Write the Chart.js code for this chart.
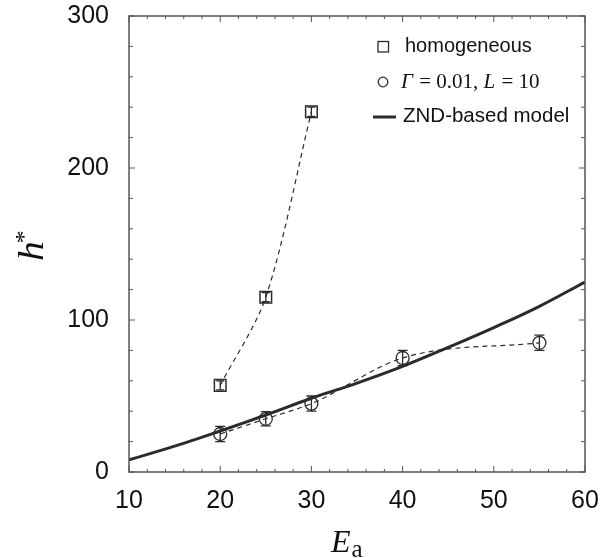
<!DOCTYPE html>
<html>
<head>
<meta charset="utf-8">
<script src="https://cdn.jsdelivr.net/npm/chart.js@4/dist/chart.umd.min.js"></script>
<style>
html,body{margin:0;padding:0;background:#fff;}
#wrap{width:611px;height:558px;position:relative;}
</style>
</head>
<body>
<div id="wrap"><canvas id="c" width="611" height="558"></canvas></div>
<script>
// ---- data ----
const homoEa = [20, 25, 30];
const homoH = [57, 115, 237];
const homoErr = [3, 3, 3];

const gammaEa = [20, 25, 30, 40, 55];
const gammaH = [25, 35, 45, 75, 85];
const gammaErr = [5, 4.7, 5, 5, 5];

const zndEa = [10, 15, 20, 25, 30, 35, 40, 45, 50, 55, 60];
const zndH = [8, 17, 27, 37.5, 48.5, 58.5, 69.5, 82, 95, 109, 125];

const xTicks = [10, 20, 30, 40, 50, 60];
const yTicks = [0, 100, 200, 300];

const legendLabels = ['homogeneous', '\u0393 = 0.01, L = 10', 'ZND-based model'];

const pts = (xs, ys) => xs.map((x, i) => ({x: x, y: ys[i]}));
const ink = '#2b2b2b';
const axisCol = '#555';

const customDraw = {
  id: 'customDraw',
  afterDatasetsDraw(chart) {
    const ctx = chart.ctx;
    const xs = chart.scales.x, ys = chart.scales.y;
    const a = chart.chartArea;
    ctx.save();
    function errBars(X, Y, E, cap) {
      ctx.strokeStyle = ink; ctx.lineWidth = 1.3; ctx.setLineDash([]);
      X.forEach((x, i) => {
        const px = xs.getPixelForValue(x);
        const t = ys.getPixelForValue(Y[i] + E[i]);
        const b = ys.getPixelForValue(Y[i] - E[i]);
        ctx.beginPath();
        ctx.moveTo(px, t); ctx.lineTo(px, b);
        ctx.moveTo(px - cap, t); ctx.lineTo(px + cap, t);
        ctx.moveTo(px - cap, b); ctx.lineTo(px + cap, b);
        ctx.stroke();
      });
    }
    errBars(homoEa, homoH, homoErr, 4);
    errBars(gammaEa, gammaH, gammaErr, 5);

    // frame
    ctx.strokeStyle = axisCol; ctx.lineWidth = 1.5;
    ctx.strokeRect(a.left, a.top, a.right - a.left, a.bottom - a.top);
    ctx.lineWidth = 1;
    for (let v = 10; v <= 60; v += 2) {
      const px = xs.getPixelForValue(v);
      const len = (v % 10 === 0) ? 6 : 3;
      ctx.beginPath();
      ctx.moveTo(px, a.bottom); ctx.lineTo(px, a.bottom - len);
      ctx.moveTo(px, a.top); ctx.lineTo(px, a.top + len);
      ctx.stroke();
    }
    for (let v = 0; v <= 300; v += 20) {
      const py = ys.getPixelForValue(v);
      const len = (v % 100 === 0) ? 6 : 4;
      ctx.beginPath();
      ctx.moveTo(a.left, py); ctx.lineTo(a.left + len, py);
      ctx.moveTo(a.right, py); ctx.lineTo(a.right - len, py);
      ctx.stroke();
    }

    // legend markers
    ctx.fillStyle = '#111';
    ctx.strokeStyle = ink;
    ctx.lineWidth = 1.3;
    ctx.strokeRect(378, 41.5, 10.5, 10.5);
    ctx.beginPath(); ctx.arc(383, 82, 4.8, 0, Math.PI * 2); ctx.stroke();
    ctx.lineWidth = 3;
    ctx.beginPath(); ctx.moveTo(373, 117); ctx.lineTo(396, 117); ctx.stroke();

    function textRun(parts, x, y) {
      let x0 = x;
      parts.forEach(p => { ctx.font = p[1]; ctx.fillText(p[0], x0, y + (p[2] || 0)); x0 += ctx.measureText(p[0]).width + (p[3] || 0); });
    }
    ctx.textBaseline = 'alphabetic';
    ctx.textAlign = 'left';
    const sans = '20px "Liberation Sans", Arial, sans-serif';
    textRun([[legendLabels[0], sans]], 405, 52);
    textRun([[legendLabels[2], '20.5px "Liberation Sans", Arial, sans-serif']], 403, 122);
    const it = 'italic 21px "Liberation Serif", "Times New Roman", serif';
    const up = '21px "Liberation Serif", "Times New Roman", serif';
    textRun([['\u0393', it, 0, 1], [' = 0.01, ', up], ['L', it, 0, 1], [' = 10', up]], 401, 88);

    // x title E_a
    textRun([['E', 'italic 32px "Liberation Serif", "Times New Roman", serif', 0, 1],
             ['a', '25px "Liberation Serif", "Times New Roman", serif', 5]], 331, 552);

    // y title h*
    ctx.save();
    ctx.translate(43, 261);
    ctx.rotate(-Math.PI / 2);
    ctx.scale(1.1, 1);
    ctx.font = 'italic 36px "Liberation Serif", "Times New Roman", serif';
    ctx.fillText('h', 0, 0);
    const hw = ctx.measureText('h').width;
    ctx.font = '24px "Liberation Serif", "Times New Roman", serif';
    ctx.fillText('*', hw - 2, -12);
    ctx.restore();

    ctx.restore();
  }
};

new Chart(document.getElementById('c'), {
  type: 'scatter',
  data: {
    datasets: [
      { data: pts(zndEa, zndH), showLine: true, borderColor: ink, borderWidth: 3, pointRadius: 0, tension: 0.4, fill: false },
      { data: pts(homoEa, homoH), showLine: true, borderColor: ink, borderWidth: 1.2, borderDash: [5, 4], pointRadius: 0, tension: 0.3, fill: false },
      { data: pts(gammaEa, gammaH), showLine: true, borderColor: ink, borderWidth: 1.2, borderDash: [5, 4], pointRadius: 0, cubicInterpolationMode: 'monotone', fill: false },
      { data: pts(homoEa, homoH), showLine: false, pointStyle: 'rect', pointRadius: 8.2, borderColor: ink, borderWidth: 1.5, backgroundColor: 'rgba(255,255,255,0)' },
      { data: pts(gammaEa, gammaH), showLine: false, pointStyle: 'circle', pointRadius: 6.5, borderColor: ink, borderWidth: 1.3, backgroundColor: 'rgba(255,255,255,0)' }
    ]
  },
  options: {
    responsive: false,
    animation: false,
    devicePixelRatio: 1,
    layout: { padding: { left: 0, right: 26, top: 16, bottom: 0 } },
    plugins: { legend: { display: false }, tooltip: { enabled: false } },
    scales: {
      x: {
        type: 'linear', min: 10, max: 60,
        afterBuildTicks: s => { s.ticks = xTicks.map(v => ({value: v})); },
        afterFit: s => { s.height = 86; s.paddingLeft = 0; s.paddingRight = 0; },
        grid: { display: false, drawTicks: false },
        border: { display: false },
        ticks: { color: '#111', padding: 14, maxRotation: 0, font: { family: '"Liberation Sans", Arial, sans-serif', size: 25 } }
      },
      y: {
        type: 'linear', min: 0, max: 300,
        afterBuildTicks: s => { s.ticks = yTicks.map(v => ({value: v})); },
        afterFit: s => { s.width = 129; s.paddingTop = 0; s.paddingBottom = 0; },
        grid: { display: false, drawTicks: false },
        border: { display: false },
        ticks: { color: '#111', padding: 20, font: { family: '"Liberation Sans", Arial, sans-serif', size: 25 } }
      }
    }
  },
  plugins: [customDraw]
});
</script>
</body>
</html>
